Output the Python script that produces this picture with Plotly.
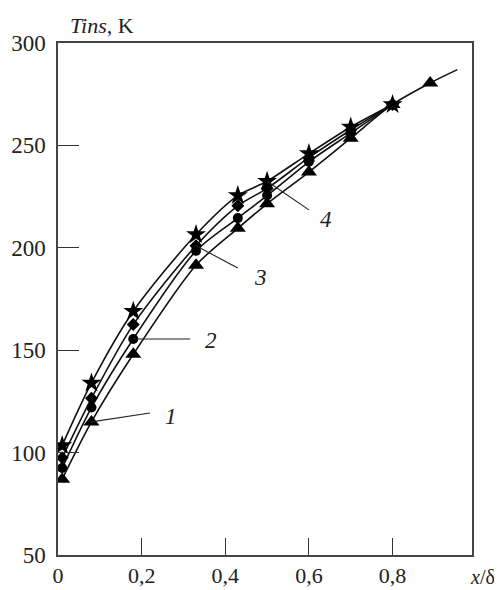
import plotly.graph_objects as go

# ---- data ----
x_pts = [0.01, 0.08, 0.18, 0.33, 0.43, 0.5, 0.6, 0.7, 0.8]
x_pts1 = [0.01, 0.08, 0.18, 0.33, 0.43, 0.5, 0.6, 0.7, 0.8, 0.89]
T1 = [87, 115, 148, 191.5, 209.5, 221.5, 237, 253.5, 270, 280.5]   # triangles
T2 = [92.5, 122, 155.5, 198.5, 214.5, 225.5, 242, 256, 270]         # circles
T3 = [97.5, 126.5, 162.5, 201, 220.5, 229, 244, 257.5, 270]         # diamonds
T4 = [103.5, 134, 169, 206.5, 225.5, 232.5, 246, 259, 270]          # stars
line1_end_x = 0.955
line1_end_T = 287

x_ticks = [0, 0.2, 0.4, 0.6, 0.8]
x_ticktext = ["0", "0,2", "0,4", "0,6", "0,8"]
y_ticks = [50, 100, 150, 200, 250, 300]

curve_labels = ["1", "2", "3", "4"]
# (point x, point T, leader end x, leader end T, text x, text T)
label_pos = [
    (0.08, 115, 0.22, 119.3, 0.251, 117.4),
    (0.18, 155.5, 0.316, 155.5, 0.347, 154.5),
    (0.33, 201, 0.43, 190.1, 0.464, 185.7),
    (0.5, 232.5, 0.60, 218.5, 0.622, 213.6),
]

series = [
    (x_pts1 + [line1_end_x], T1 + [line1_end_T], x_pts1, T1, "triangle-up", 14),
    (x_pts, T2, x_pts, T2, "circle", 10),
    (x_pts, T3, x_pts, T3, "diamond", 10),
    (x_pts, T4, x_pts, T4, "star", 15),
]

fig = go.Figure()
for lx, ly, mx, my, sym, size in series:
    fig.add_trace(go.Scatter(x=lx, y=ly, mode="lines",
                             line=dict(color="#111", width=1.6, shape="spline", smoothing=0.8),
                             hoverinfo="skip", showlegend=False))
    fig.add_trace(go.Scatter(x=mx, y=my, mode="markers",
                             marker=dict(symbol=sym, size=size, color="#000",
                                         line=dict(width=0)),
                             showlegend=False))

serif = "Liberation Serif, Times New Roman, serif"

shapes = []
annotations = []
for lab, (px, pt, ex, et, tx, tt) in zip(curve_labels, label_pos):
    shapes.append(dict(type="line", x0=px, y0=pt, x1=ex, y1=et, xref="x", yref="y",
                       line=dict(color="#222", width=1.1)))
    annotations.append(dict(x=tx, y=tt, xref="x", yref="y", text="<i>%s</i>" % lab,
                            showarrow=False, font=dict(family=serif, size=23, color="#222"),
                            xanchor="left", yanchor="middle"))

annotations.append(dict(x=0.024, y=1.035, xref="paper", yref="paper",
                        text="<i>Tins</i>, K", showarrow=False,
                        font=dict(family=serif, size=22, color="#222"),
                        xanchor="left", yanchor="middle"))
annotations.append(dict(x=0.99, y=-0.043, xref="paper", yref="paper",
                        text="<i>x</i>/δ", showarrow=False,
                        font=dict(family=serif, size=20, color="#222"),
                        xanchor="left", yanchor="middle"))

fig.update_layout(
    template="none",
    width=502, height=590,
    margin=dict(l=50, r=38, t=35, b=43, pad=0),
    paper_bgcolor="white", plot_bgcolor="white",
    shapes=shapes, annotations=annotations,
    font=dict(family=serif, size=23, color="#222"),
)
fig.update_xaxes(range=[0, 0.99], tickvals=x_ticks, ticktext=x_ticktext,
                 ticks="inside", ticklen=17, tickwidth=1.2, tickcolor="#333",
                 showline=True, linecolor="#444", linewidth=1.5, mirror=True,
                 showgrid=False, zeroline=False, ticklabelstandoff=0, automargin=False,
                 tickfont=dict(size=22))
fig.update_yaxes(range=[50, 300], tickvals=y_ticks,
                 ticks="inside", ticklen=21, tickwidth=1.2, tickcolor="#333",
                 showline=True, linecolor="#444", linewidth=1.5, mirror=True,
                 showgrid=False, zeroline=False, ticklabelstandoff=6, automargin=False)

fig.write_html("out.html")
